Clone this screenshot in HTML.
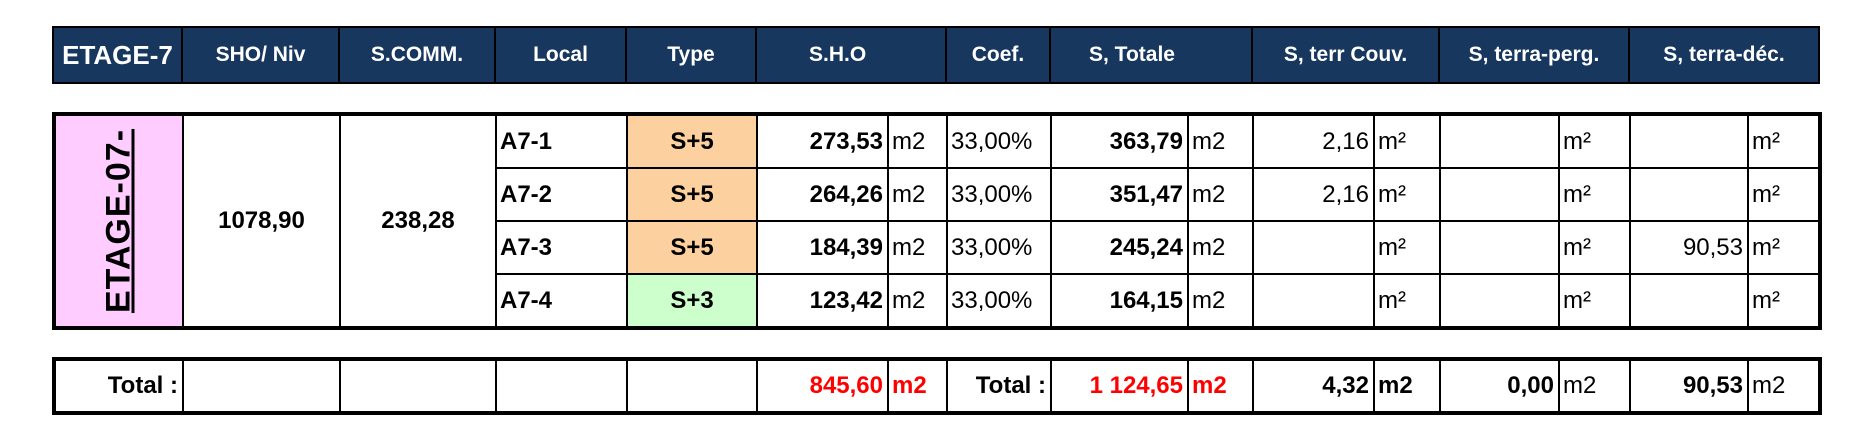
<!DOCTYPE html>
<html><head><meta charset="utf-8"><style>
body{margin:0;width:1859px;height:444px;background:#fff;position:relative;font-family:"Liberation Sans",Arial,sans-serif;overflow:hidden}
table{position:absolute;left:52px;border-collapse:collapse;table-layout:fixed;width:1766px}
td{padding:0;overflow:hidden;white-space:nowrap;font-size:24px;color:#000;border:2px solid #000}
.h{top:26px;height:56px}
.h td{background:#17375e;color:#fff;font-weight:bold;font-size:21px;text-align:center;border:2px solid #000}
.b{top:112px;border:4px solid #000}
.b td{height:51px}
.t{top:357px;border:4px solid #000}
.t td{height:50px}
.r{text-align:right;padding-right:4px}
.l{text-align:left;padding-left:3px}
.c{text-align:center}
.bo{font-weight:bold}
.red{color:#f00;font-weight:bold}
.or{background:#fcd09f}
.gr{background:#ccffcc}
.pk{background:#ffccff;position:relative}
.vt{position:absolute;left:50%;top:50%;transform:translate(-50%,-50%) rotate(-90deg);font-weight:bold;font-size:34px;text-decoration:underline;letter-spacing:1px}
</style></head><body>
<table class="h">
<colgroup><col style="width:129px"><col style="width:157px"><col style="width:156px"><col style="width:131px"><col style="width:130px"><col style="width:190px"><col style="width:104px"><col style="width:202px"><col style="width:187px"><col style="width:190px"><col style="width:190px"></colgroup>
<tr style="height:56px"><td style="font-size:26px">ETAGE-7</td><td>SHO/ Niv</td><td>S.COMM.</td><td>Local</td><td>Type</td><td style="text-align:left;padding-left:52px">S.H.O</td><td>Coef.</td><td style="text-align:left;padding-left:38px">S, Totale</td><td>S, terr Couv.</td><td>S, terra-perg.</td><td>S, terra-déc.</td></tr>
</table>
<table class="b">
<colgroup><col style="width:129px"><col style="width:157px"><col style="width:156px"><col style="width:131px"><col style="width:130px"><col style="width:131px"><col style="width:59px"><col style="width:104px"><col style="width:137px"><col style="width:65px"><col style="width:121px"><col style="width:66px"><col style="width:119px"><col style="width:71px"><col style="width:118px"><col style="width:72px"></colgroup>
<tr><td rowspan="4" class="pk"><div class="vt">ETAGE-07-</div></td><td rowspan="4" class="c bo">1078,90</td><td rowspan="4" class="c bo">238,28</td>
<td class="l bo">A7-1</td><td class="c bo or">S+5</td><td class="r bo">273,53</td><td class="l">m2</td><td class="l">33,00%</td><td class="r bo">363,79</td><td class="l">m2</td><td class="r">2,16</td><td class="l">m²</td><td></td><td class="l">m²</td><td></td><td class="l">m²</td></tr>
<tr><td class="l bo">A7-2</td><td class="c bo or">S+5</td><td class="r bo">264,26</td><td class="l">m2</td><td class="l">33,00%</td><td class="r bo">351,47</td><td class="l">m2</td><td class="r">2,16</td><td class="l">m²</td><td></td><td class="l">m²</td><td></td><td class="l">m²</td></tr>
<tr><td class="l bo">A7-3</td><td class="c bo or">S+5</td><td class="r bo">184,39</td><td class="l">m2</td><td class="l">33,00%</td><td class="r bo">245,24</td><td class="l">m2</td><td></td><td class="l">m²</td><td></td><td class="l">m²</td><td class="r">90,53</td><td class="l">m²</td></tr>
<tr><td class="l bo">A7-4</td><td class="c bo gr">S+3</td><td class="r bo">123,42</td><td class="l">m2</td><td class="l">33,00%</td><td class="r bo">164,15</td><td class="l">m2</td><td></td><td class="l">m²</td><td></td><td class="l">m²</td><td></td><td class="l">m²</td></tr>
</table>
<table class="t">
<colgroup><col style="width:129px"><col style="width:157px"><col style="width:156px"><col style="width:131px"><col style="width:130px"><col style="width:131px"><col style="width:59px"><col style="width:104px"><col style="width:137px"><col style="width:65px"><col style="width:121px"><col style="width:66px"><col style="width:119px"><col style="width:71px"><col style="width:118px"><col style="width:72px"></colgroup>
<tr><td class="r bo">Total :</td><td></td><td></td><td></td><td></td><td class="r red">845,60</td><td class="l red">m2</td><td class="r bo">Total :</td><td class="r red">1 124,65</td><td class="l red">m2</td><td class="r bo">4,32</td><td class="l bo">m2</td><td class="r bo">0,00</td><td class="l">m2</td><td class="r bo">90,53</td><td class="l">m2</td></tr>
</table>
</body></html>
